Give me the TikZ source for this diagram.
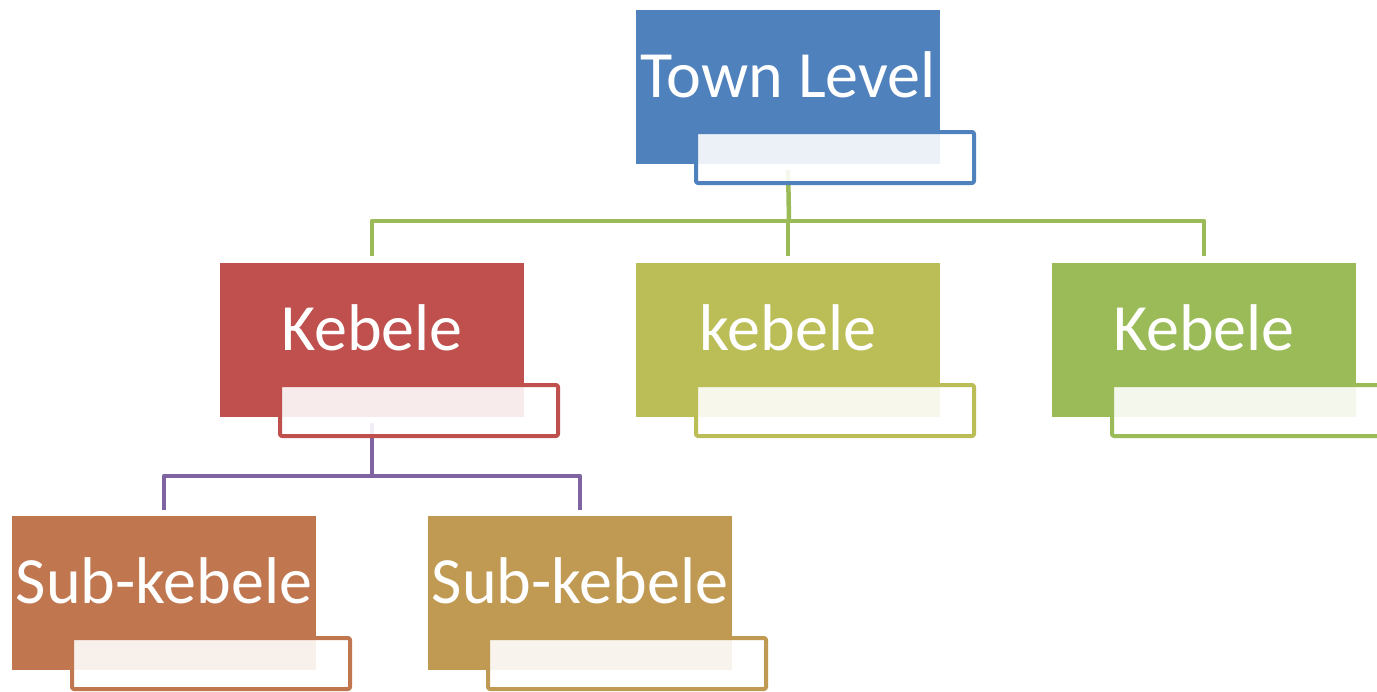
\documentclass[tikz,border=0pt]{standalone}
\usepackage{fontspec}
\setmainfont{Carlito}
\definecolor{cblue}{HTML}{4F81BD}
\definecolor{cred}{HTML}{C0504D}
\definecolor{colive}{HTML}{BBBD56}
\definecolor{cgreen}{HTML}{9BBB59}
\definecolor{cbrown}{HTML}{C07750}
\definecolor{cgold}{HTML}{C09A52}
\definecolor{cpurple}{HTML}{8064A2}
\tikzset{
  mainbox/.style={fill=#1, text=white, minimum width=6.08cm, inner xsep=0pt, inner ysep=0pt,
    text height=1.74cm, text depth=1.34cm, outer sep=0pt},
  overbox/.style={draw=#1, fill=white, fill opacity=.89, line width=.08cm, rounded corners=.04cm,
    minimum width=5.56cm, minimum height=1.02cm, inner sep=0pt, outer sep=0pt, anchor=north west},
  link/.style={draw=#1, line width=.09cm}
}
\begin{document}
\begin{tikzpicture}[font=\fontsize{37.6}{42}\selectfont, line join=round]
	\useasboundingbox (0,0) rectangle (27.54,-13.82);
	% boxes
	\foreach \nm/\px/\py/\col/\txt in {top/15.76/-1.74/cblue/Town Level,
		kA/7.44/-6.80/cred/Kebele, kB/15.76/-6.80/colive/kebele, kC/24.08/-6.80/cgreen/Kebele,
		sA/3.28/-11.86/cbrown/Sub-kebele, sB/11.60/-11.86/cgold/Sub-kebele}
		\node[mainbox=\col] (\nm) at (\px,\py) {\txt};
	% connectors
	\coordinate (jtop) at (15.78,-4.42);
	\coordinate (jkA) at (7.44,-9.52);
	\draw[link=cgreen, shorten <=.12cm] (top.south) -- (jtop);
	\foreach \k in {kA,kB,kC} \draw[link=cgreen, shorten >=.14cm] (jtop) -| (\k.north);
	\draw[link=cpurple, shorten <=.12cm] (kA.south) -- (jkA);
	\foreach \s in {sA,sB} \draw[link=cpurple, shorten >=.12cm] (jkA) -| (\s.north);
	% lower frames
	\foreach \nm/\col in {top/cblue,kA/cred,kB/colive,kC/cgreen,sA/cbrown,sB/cgold}
		\node[overbox=\col] (\nm f) at ([xshift=1.2cm,yshift=.64cm]\nm.south west) {};
\end{tikzpicture}
\end{document}
